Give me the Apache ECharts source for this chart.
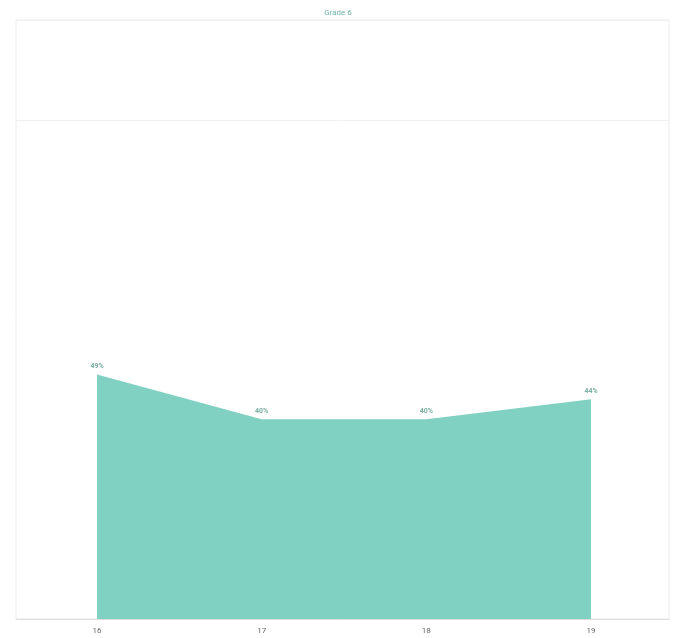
<!DOCTYPE html>
<html>
<head>
<meta charset="utf-8">
<script src="https://cdn.jsdelivr.net/npm/echarts@6/dist/echarts.min.js"></script>
<style>
  html, body { margin: 0; padding: 0; background: #fff; }
  #chart { width: 676px; height: 638px; }
</style>
</head>
<body>
<div id="chart"></div>
<script>
// School years and the share of grade 6 students (percent)
const years = ['16', '17', '18', '19'];
const shares = [49, 40, 40, 44];
const yTicks = [0, 100, 120];

const chart = echarts.init(document.getElementById('chart'), null, { renderer: 'canvas' });

chart.setOption({
  animation: false,
  backgroundColor: '#ffffff',
  title: {
    text: 'Grade 6',
    left: 'center',
    top: 4,
    textStyle: { fontFamily: 'Roboto', fontSize: 8, fontWeight: 'normal', color: '#6fb3a4' }
  },
  grid: [
    // outer panel with border and reference lines
    { left: 16, right: 7, top: 20, bottom: 19, show: true, borderColor: '#ececec', borderWidth: 1 },
    // plotting area for the series
    { left: 97, right: 85, top: 20, bottom: 19 }
  ],
  xAxis: [
    {
      gridIndex: 0, type: 'value', min: 0, max: 1,
      axisLine: { show: true, onZero: false, lineStyle: { color: '#dcdcdc' } },
      axisTick: { show: false }, axisLabel: { show: false }, splitLine: { show: false }
    },
    {
      gridIndex: 1, type: 'category', data: years, boundaryGap: false,
      axisLine: { show: false }, axisTick: { show: false },
      axisLabel: { fontFamily: 'Roboto', fontSize: 8, color: '#666', margin: 8 }
    }
  ],
  yAxis: [
    {
      gridIndex: 0, type: 'value', min: yTicks[0], max: yTicks[2], interval: yTicks[1],
      axisLine: { show: false }, axisTick: { show: false }, axisLabel: { show: false },
      splitLine: { show: true, lineStyle: { color: '#f0f0f0' } }
    },
    {
      gridIndex: 1, type: 'value', min: yTicks[0], max: yTicks[2],
      show: false
    }
  ],
  series: [{
    type: 'line',
    xAxisIndex: 1, yAxisIndex: 1,
    data: shares,
    symbol: 'circle',
    symbolSize: 2,
    showSymbol: true,
    itemStyle: { color: 'rgba(129,209,194,0)', borderWidth: 0 },
    lineStyle: { width: 0 },
    areaStyle: { color: '#81d1c2', opacity: 1 },
    label: {
      show: true, position: 'top', distance: 4,
      formatter: p => p.value + '%',
      fontFamily: 'Roboto', fontSize: 7, fontWeight: 'bold', color: '#7aaea1'
    }
  }]
});
</script>
</body>
</html>
